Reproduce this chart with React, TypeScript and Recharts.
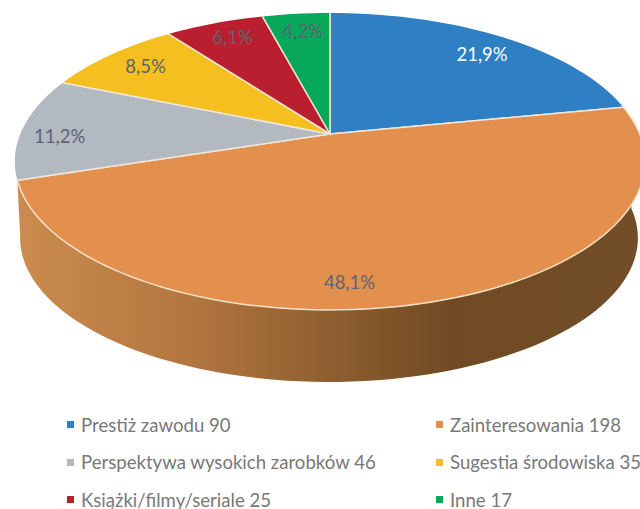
import React from "react";
import { PieChart, Pie, Legend } from "recharts";

const categories = ["Prestiż zawodu", "Zainteresowania", "Perspektywa wysokich zarobków", "Sugestia środowiska", "Książki/filmy/seriale", "Inne"];
const counts = [90, 198, 46, 35, 25, 17];
const percentLabels = ["21,9%", "48,1%", "11,2%", "8,5%", "6,1%", "4,2%"];
const colors = ["#2e7fc3", "#e38f4e", "#b3b9c1", "#f5bf1f", "#b91f2e", "#07a85a"];

const rows = categories.map((c, i) => ({
  name: c,
  legendName: `${c} ${counts[i]}`,
  value: counts[i],
  fill: colors[i],
  pct: percentLabels[i],
}));

// Perspective projection of the pie's circle
const K = 0.185;
const SX = 2.56;
const SY = 1.185;
const project = (cx: number, cy: number, R: number, deg: number, r = 1) => {
  const t = ((90 - deg) * Math.PI) / 180;
  const u = Math.sin(t) * r;
  const v = -Math.cos(t) * r;
  const w = 1 - K * v;
  return [cx + (SX * R * u) / w, cy + (SY * R * v) / w];
};
const arcPoints = (cx: number, cy: number, R: number, a: number, b: number) => {
  const n = Math.max(2, Math.ceil(Math.abs(a - b) / 2));
  const pts: number[][] = [];
  for (let i = 0; i <= n; i++) pts.push(project(cx, cy, R, a + ((b - a) * i) / n));
  return pts;
};
const toPath = (pts: number[][]) => pts.map((p, i) => `${i ? "L" : "M"}${p[0].toFixed(2)} ${p[1].toFixed(2)}`).join(" ");

const TopFace = (p: any) => {
  const { cx, cy, outerRadius: R, startAngle, endAngle, fill } = p;
  const arc = arcPoints(cx, cy, R, startAngle, endAngle);
  const isFront = startAngle > -90 && endAngle < -90;
  return (
    <g>
      <path d={`M${cx} ${cy} ${toPath(arc).replace("M", "L")} Z`} fill={fill} />
      <path
        d={`M${arc[0][0]} ${arc[0][1]} L${cx} ${cy} L${arc[arc.length - 1][0]} ${arc[arc.length - 1][1]}`}
        fill="none"
        stroke="#f1e6d8"
        strokeWidth={1.5}
      />
      {isFront && <path d={toPath(arc)} fill="none" stroke="#f6e3c8" strokeWidth={1.5} />}
    </g>
  );
};

const Wall = (p: any) => {
  const { cx, cy, outerRadius: R, startAngle, endAngle } = p;
  // only the slice that spans the front of the pie shows its side
  if (!(startAngle > -90 && endAngle < -90)) return <g />;
  const top = arcPoints(cx, cy, R, startAngle - 5, endAngle);
  const lower = arcPoints(cx, cy, R, endAngle - 8, startAngle - 10).map(([x, y]) => [
    cx - 1 + 0.98 * (x - cx),
    cy + 0.639 * R + 0.97 * (y - cy),
  ]);
  return <path d={`${toPath(top)} ${toPath(lower).replace("M", "L")} Z`} fill="url(#wallShade)" />;
};

const labelNudge = [
  [3, 4],
  [-58, 9],
  [-9, 7],
  [5, 0],
  [3, -1],
  [2, 2],
];

const renderLabel = (p: any) => {
  const { cx, cy, outerRadius: R, midAngle, index } = p;
  const [x, y] = project(cx, cy, R, midAngle, 0.85);
  return (
    <text
      x={x + labelNudge[index][0]}
      y={y + labelNudge[index][1]}
      textAnchor="middle"
      dominantBaseline="central"
      fontFamily="Lato"
      fontSize={18.5}
      fill={index === 0 ? "#ffffff" : "#5c6570"}
    >
      {percentLabels[index]}
    </text>
  );
};

const LegendBlock = ({ payload }: any) => (
  <div
    style={{
      display: "grid",
      gridTemplateColumns: "369px 203px",
      gridAutoRows: "37.5px",
      paddingLeft: 67,
      fontFamily: "Lato",
      fontSize: 18.6,
      color: "#787878",
      whiteSpace: "nowrap",
    }}
  >
    {(payload || [])
      .filter((e: any) => e.type !== "none")
      .map((e: any) => (
        <div key={e.value} style={{ display: "flex", alignItems: "center", height: 37.5 }}>
          <span style={{ width: 7, height: 7, background: e.color, marginRight: 7, flex: "none" }} />
          <span>{e.value}</span>
        </div>
      ))}
  </div>
);

export default function App() {
  return (
    <div style={{ position: "absolute", left: 0, top: 0, width: 640, height: 509, background: "#fff", overflow: "hidden" }}>
      <PieChart width={640} height={509} margin={{ top: 0, right: 0, bottom: 0, left: 0 }}>
        <defs>
          <linearGradient id="wallShade" gradientUnits="userSpaceOnUse" x1={16} y1={0} x2={640} y2={0}>
            <stop offset="0" stopColor="#cc8c4e" />
            <stop offset="0.3" stopColor="#b0743e" />
            <stop offset="0.5" stopColor="#8f5f30" />
            <stop offset="0.7" stopColor="#6f4a22" />
            <stop offset="1" stopColor="#724e28" />
          </linearGradient>
        </defs>
        <Pie
          data={rows}
          dataKey="value"
          nameKey="legendName"
          cx={330}
          cy={134}
          outerRadius={121}
          startAngle={90}
          endAngle={-270}
          legendType="none"
          shape={Wall}
          label={false}
          labelLine={false}
          isAnimationActive={false}
        />
        <Pie
          data={rows}
          dataKey="value"
          nameKey="legendName"
          cx={330}
          cy={134}
          outerRadius={121}
          startAngle={90}
          endAngle={-270}
          shape={TopFace}
          label={renderLabel}
          labelLine={false}
          isAnimationActive={false}
        />
        <Legend
          content={<LegendBlock />}
          itemSorter={null}
          wrapperStyle={{ position: "absolute", left: 0, top: 406, width: 640 }}
        />
      </PieChart>
    </div>
  );
}
